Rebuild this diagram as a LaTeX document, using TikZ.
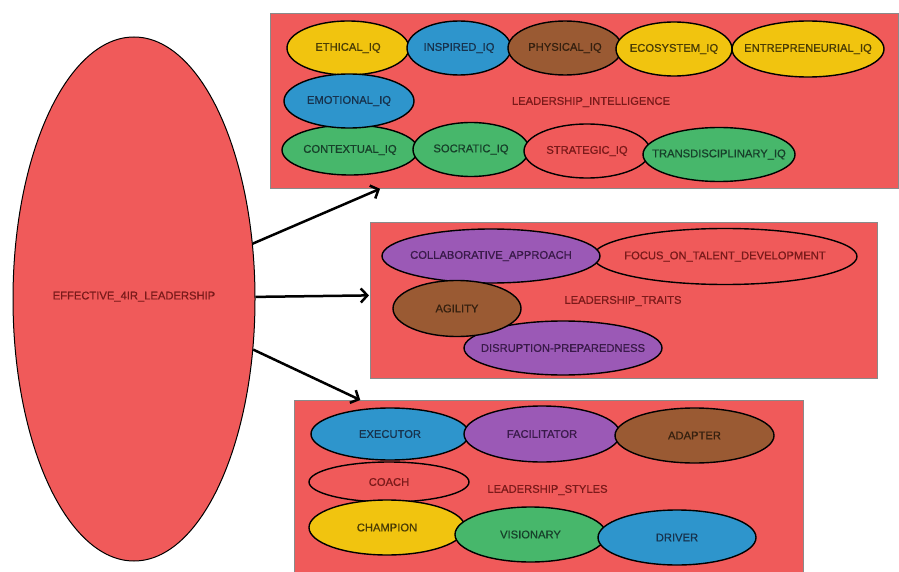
\documentclass[tikz,border=0pt]{standalone}
\usepackage{fontspec}
\setmainfont{Liberation Sans}
\newfontfamily\labelfont[FakeBold=0.7]{Liberation Sans}
\usetikzlibrary{shapes.geometric,arrows.meta,calc}

% fills
\definecolor{cred}{HTML}{F05A5A}
\definecolor{cyel}{HTML}{F1C40F}
\definecolor{cblue}{HTML}{2E95CC}
\definecolor{cbrown}{HTML}{9A5A33}
\definecolor{cgreen}{HTML}{47B76B}
\definecolor{cpurple}{HTML}{9B59B6}
% label inks
\definecolor{tred}{HTML}{7A1A1A}
\definecolor{tyel}{HTML}{4A3C05}
\definecolor{tblue}{HTML}{17324D}
\definecolor{tbrown}{HTML}{35200F}
\definecolor{tgreen}{HTML}{17402A}
\definecolor{tpurple}{HTML}{3A1A4A}
\definecolor{panelgray}{HTML}{8A8A8A}

\tikzset{
  lbl/.style={font=\labelfont\fontsize{11.2pt}{13pt}\selectfont, inner sep=0pt},
  bub/.style 2 args={ellipse, draw=black, line width=1.4pt, inner sep=0pt,
    minimum width=#1, minimum height=#2, lbl},
  yel/.style={fill=cyel, text=tyel},
  blu/.style={fill=cblue, text=tblue},
  brn/.style={fill=cbrown, text=tbrown},
  grn/.style={fill=cgreen, text=tgreen},
  pur/.style={fill=cpurple, text=tpurple},
  rd/.style={fill=cred, text=tred},
  panel/.style={rectangle, draw=panelgray, line width=0.8pt, fill=cred,
    inner sep=0pt, anchor=north west},
  conn/.style={draw=black, line width=2.5pt,
    -{Straight Barb[length=6.5pt, width=14pt]}},
}

\newcommand{\tx}[1]{\makebox[0pt]{#1}}

\begin{document}
\begin{tikzpicture}[x=1pt, y=-1pt]
\useasboundingbox[fill=white] (0,0) rectangle (899,572);

% central ellipse
\node[ellipse, draw=black, line width=1pt, fill=cred, text=tred, lbl,
      minimum width=242pt, minimum height=524pt] (main) at (134,299)
      {\tx{\raisebox{7pt}{EFFECTIVE\_4IR\_LEADERSHIP}}};

% panel 1: intelligence
\node[panel, minimum width=628pt, minimum height=175pt] (b1) at (270,13) {};
\node[lbl, text=tred] (intel) at (591,102) {LEADERSHIP\_INTELLIGENCE};
\node[bub={122pt}{54pt}, yel] (ethical) at (348,48) {\tx{ETHICAL\_IQ}};
\node[bub={104pt}{54pt}, blu] (inspired) at (459,48) {\tx{INSPIRED\_IQ}};
\node[bub={114pt}{54pt}, brn] (physical) at (565,48) {\tx{PHYSICAL\_IQ}};
\node[bub={116pt}{54pt}, yel] (ecosystem) at (674,49) {\tx{ECOSYSTEM\_IQ}};
\node[bub={152pt}{56pt}, yel] (entre) at (808,49) {\tx{ENTREPRENEURIAL\_IQ}};
\node[bub={136pt}{50pt}, grn] (contextual) at (350,150) {\tx{CONTEXTUAL\_IQ}};
\node[bub={130pt}{54pt}, blu] (emotional) at (349,101) {\tx{EMOTIONAL\_IQ}};
\node[bub={116pt}{54pt}, grn] (socratic) at (471,149.5) {\tx{SOCRATIC\_IQ}};
\node[bub={126pt}{54pt}, rd] (strategic) at (587,151) {\tx{STRATEGIC\_IQ}};
\node[bub={152pt}{54pt}, grn] (transd) at (719,154.5) {\tx{TRANSDISCIPLINARY\_IQ}};

% panel 2: traits
\node[panel, minimum width=507pt, minimum height=156pt] (b2) at (370,222) {};
\node[lbl, text=tred] (traits) at (623,301) {LEADERSHIP\_TRAITS};
\node[bub={264pt}{56pt}, rd] (focus) at (725,256.5) {\tx{FOCUS\_ON\_TALENT\_DEVELOPMENT}};
\node[bub={198pt}{54pt}, pur] (disrupt) at (563,348) {\tx{DISRUPTION-PREPAREDNESS}};
\node[bub={218pt}{54pt}, pur] (collab) at (491,256) {\tx{COLLABORATIVE\_APPROACH}};
\node[bub={128pt}{56pt}, brn] (agility) at (457,308.5) {\tx{AGILITY}};

% panel 3: styles
\node[panel, minimum width=509pt, minimum height=190pt] (b3) at (294,400) {};
\node[lbl, text=tred] (styles) at (547.5,490) {LEADERSHIP\_STYLES};
\node[bub={158pt}{52pt}, blu] (executor) at (390,434) {\tx{EXECUTOR}};
\node[bub={156pt}{56pt}, pur] (facil) at (542,434) {\tx{FACILITATOR}};
\node[bub={159pt}{55pt}, brn] (adapter) at (694.5,435.5) {\tx{ADAPTER}};
\node[bub={160pt}{40pt}, rd] (coach) at (389,482) {\tx{COACH}};
\node[bub={156pt}{55pt}, yel] (champion) at (387,527.5) {\tx{CHAMPION}};
\node[bub={151pt}{55pt}, grn] (visionary) at (530.5,534.5) {\tx{VISIONARY}};
\node[bub={158pt}{55pt}, blu] (driver) at (677,537.5) {\tx{DRIVER}};

% connectors
\draw[conn] (main.25) -- ($(b1.south west)!0.175!(b1.south east)$);
\draw[conn] (main.1) -- ($(b2.west)+(-1,-5)$);
\draw[conn] (main.-23) -- ($(b3.north west)!0.13!(b3.north east)$);
\end{tikzpicture}
\end{document}
